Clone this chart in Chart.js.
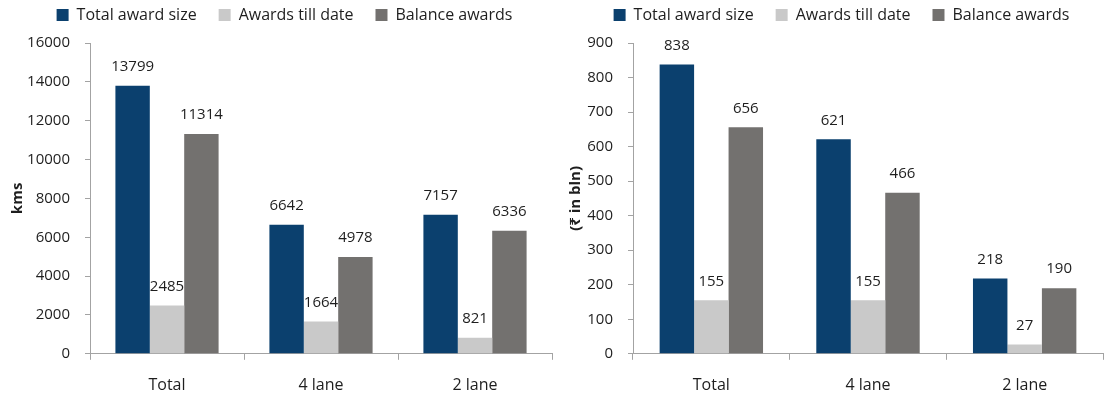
<!DOCTYPE html>
<html>
<head>
<meta charset="utf-8">
<script src="https://cdn.jsdelivr.net/npm/chart.js@4"></script>
<style>
  html, body { margin: 0; padding: 0; background: #ffffff; }
  body { width: 1108px; height: 400px; position: relative; overflow: hidden; }
  .panel { position: absolute; top: 0; }
  #kmsPanel { left: 0; }
  #valuePanel { left: 560px; }
</style>
</head>
<body>
<div class="panel" id="kmsPanel"><canvas id="kmsChart" width="554" height="400"></canvas></div>
<div class="panel" id="valuePanel"><canvas id="valueChart" width="548" height="400"></canvas></div>
<script>
// Road award progress by lane type
const categories = ['Total', '4 lane', '2 lane'];
const seriesNames = ['Total award size', 'Awards till date', 'Balance awards'];

// Length of awards, kms
const kmsTotal = [13799, 6642, 7157];
const kmsAwarded = [2485, 1664, 821];
const kmsBalance = [11314, 4978, 6336];

// Value of awards, ₹ bln
const bnTotal = [838, 621, 218];
const bnAwarded = [155, 155, 27];
const bnBalance = [656, 466, 190];

// Axis ranges and titles
const kmsAxis = { max: 16000, step: 2000, title: 'kms' };
const bnAxis = { max: 900, step: 100, title: '(₹ in bln)' };

const colors = ['#0b406e', '#c9c9c9', '#73716f'];
const axisColor = '#a3a3a3';
const textColor = '#1e1e1e';
const fontFamily = "'Open Sans', 'Noto Sans', sans-serif";

// Value labels above each bar
const valueLabels = {
  id: 'valueLabels',
  afterDatasetsDraw(chart) {
    const ctx = chart.ctx;
    ctx.save();
    ctx.font = '15px ' + fontFamily;
    ctx.fillStyle = textColor;
    ctx.textAlign = 'center';
    ctx.textBaseline = 'middle';
    chart.data.datasets.forEach((ds, i) => {
      const meta = chart.getDatasetMeta(i);
      meta.data.forEach((bar, j) => {
        ctx.fillText(String(ds.data[j]), bar.x, bar.y - 19);
      });
    });
    ctx.restore();
  }
};

// Extra space between legend and plot
const legendGap = {
  id: 'legendGap',
  beforeInit(chart) {
    const legend = chart.legend;
    const baseFit = legend.fit;
    legend.fit = function () {
      baseFit.call(this);
      this.height += 10;
    };
  }
};

function buildChart(canvasId, values, axis, geom) {
  return new Chart(document.getElementById(canvasId), {
    type: 'bar',
    data: {
      labels: categories,
      datasets: values.map((v, i) => ({
        label: seriesNames[i],
        data: v,
        backgroundColor: colors[i],
        borderWidth: 0,
        barPercentage: 1.0,
        categoryPercentage: geom.groupShare
      }))
    },
    options: {
      responsive: false,
      animation: false,
      devicePixelRatio: 1,
      layout: { padding: { top: -15, bottom: -11, left: geom.padLeft, right: geom.padRight } },
      plugins: {
        legend: {
          position: 'top',
          labels: {
            boxWidth: 12,
            boxHeight: 12,
            padding: 22,
            color: textColor,
            font: { family: fontFamily, size: 16 }
          }
        },
        tooltip: { enabled: false }
      },
      scales: {
        x: {
          grid: { display: true, drawOnChartArea: false, tickLength: 6, color: axisColor, offset: true },
          border: { display: true, color: axisColor, width: 1 },
          ticks: { color: textColor, padding: 16, font: { family: fontFamily, size: 16 } }
        },
        y: {
          min: 0,
          max: axis.max,
          afterFit(scale) { scale.width = geom.axisWidth; },
          grid: { display: true, drawOnChartArea: false, tickLength: 5, color: axisColor },
          border: { display: true, color: axisColor, width: 1 },
          ticks: {
            stepSize: axis.step,
            color: textColor,
            padding: 15,
            font: { family: fontFamily, size: 15 },
            callback: (value) => String(value)
          },
          title: {
            display: true,
            text: axis.title,
            color: textColor,
            font: { family: fontFamily, size: 15, weight: 'bold' },
            padding: { top: geom.titleShift, bottom: 0 }
          }
        }
      }
    },
    plugins: [valueLabels, legendGap]
  });
}

buildChart('kmsChart', [kmsTotal, kmsAwarded, kmsBalance], kmsAxis,
  { groupShare: 0.67, padLeft: 17, padRight: 2, axisWidth: 73, titleShift: -8 });
buildChart('valueChart', [bnTotal, bnAwarded, bnBalance], bnAxis,
  { groupShare: 0.66, padLeft: 20, padRight: 5, axisWidth: 53, titleShift: -13 });
</script>
</body>
</html>
